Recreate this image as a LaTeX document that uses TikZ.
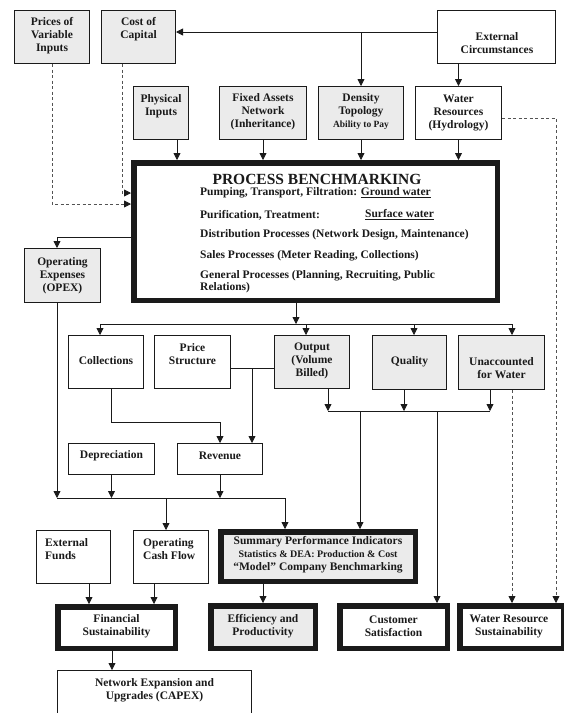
\documentclass[tikz,border=0pt]{standalone}
\usepackage{fontspec}
\setmainfont{Liberation Serif}
\usetikzlibrary{arrows.meta}
\definecolor{boxgray}{HTML}{EBEBEB}
\definecolor{ink}{HTML}{1A1A1A}
\tikzset{
  base/.style={draw=ink, inner sep=0pt},
  gbox/.style={base, fill=boxgray},
  wbox/.style={base, fill=white},
  lbl/.style={font=\bfseries\fontsize{11.5}{13}\selectfont, align=center, inner sep=0pt, text=ink},
  plbl/.style={font=\bfseries\fontsize{11.5}{13}\selectfont, anchor=west, inner sep=0pt, text=ink},
  ln/.style={draw=ink, line width=0.8pt},
  arr/.style={draw=ink, line width=0.8pt, -{Triangle[length=7pt,width=7pt]}},
  darr/.style={draw=ink!75, line width=0.8pt, dash pattern=on 3pt off 2.5pt, -{Triangle[length=7pt,width=7pt,color=ink]}}
}
\newcommand\BX[7]{\node[#1, line width=#7pt, minimum width={#5-#3-#7}, minimum height={#6-#4-#7}] (#2) at ({(#3+#5)/2},{(#4+#6)/2}) {};}
\begin{document}
\begin{tikzpicture}[x=1pt,y=-1pt]
\useasboundingbox (0,0) rectangle (563,713);
% boxes
\BX{gbox}{pvi}{14}{10}{90}{64}{0.8}
\BX{gbox}{coc}{101}{10}{176}{64}{0.8}
\BX{wbox}{ext}{437}{10}{556}{64}{0.8}
\BX{gbox}{phys}{133}{86}{189}{140}{0.8}
\BX{gbox}{fixed}{219}{86}{307}{140}{0.8}
\BX{gbox}{dens}{318}{86}{404}{140}{0.8}
\BX{wbox}{water}{415}{86}{502}{140}{0.8}
\BX{wbox}{proc}{131}{160}{500}{303}{5.5}
\BX{gbox}{opex}{24}{248}{101}{303}{0.8}
\BX{wbox}{coll}{68}{335}{144}{389}{0.8}
\BX{wbox}{price}{154}{335}{231}{389}{0.8}
\BX{gbox}{out}{274}{335}{350}{389}{0.8}
\BX{gbox}{qual}{372}{335}{447}{390}{0.8}
\BX{gbox}{unacc}{458}{335}{545}{390}{0.8}
\BX{wbox}{dep}{68}{443}{155}{475}{0.8}
\BX{wbox}{rev}{177}{443}{263}{475}{0.8}
\BX{wbox}{extf}{36}{530}{111}{584}{0.8}
\BX{wbox}{ocf}{133}{530}{209}{584}{0.8}
\BX{gbox}{summ}{218}{529}{418}{584}{5.5}
\BX{wbox}{fin}{55}{604}{178}{651}{5.5}
\BX{gbox}{eff}{208}{603}{318}{651}{5.5}
\BX{wbox}{cust}{337}{603}{450}{651}{5.5}
\BX{wbox}{wrs}{457}{603}{566}{651}{5.5}
\BX{wbox}{capex}{57}{670}{252}{730}{0.8}
% labels
\node[lbl] (pvi-t) at (52,36) {Prices of\\Variable\\Inputs};
\node[lbl] (coc-t) at (138.5,29) {Cost of\\Capital};
\node[lbl] (ext-t) at (497,43) {External\\Circumstances};
\node[lbl] (phys-t) at (161,106) {Physical\\Inputs};
\node[lbl] (fixed-t) at (263,112) {Fixed Assets\\Network\\(Inheritance)};
\node[lbl] (dens-t) at (361,112) {Density\\Topology\\{\fontsize{9.5}{12}\selectfont Ability to Pay}};
\node[lbl] (water-t) at (458.5,113) {Water\\Resources\\(Hydrology)};
\node[lbl, font=\bfseries\fontsize{15.5}{17}\selectfont] (proc-h) at (317,179) {PROCESS BENCHMARKING};
\node[plbl] (p1) at (200,193) {Pumping, Transport, Filtration: \underline{Ground water}};
\node[plbl] (p2) at (200,215) {Purification, Treatment:};
\node[plbl] (p2b) at (365,215) {\underline{Surface water}};
\node[plbl] (p3) at (200,235) {Distribution Processes (Network Design, Maintenance)};
\node[plbl] (p4) at (200,256) {Sales Processes (Meter Reading, Collections)};
\node[plbl] (p5) at (200,276) {General Processes (Planning, Recruiting, Public};
\node[plbl] (p6) at (200,287.5) {Relations)};
\node[lbl] (opex-t) at (62.5,276) {Operating\\Expenses\\(OPEX)};
\node[lbl] (coll-t) at (106,361) {Collections};
\node[lbl] (price-t) at (192.5,354) {Price\\Structure};
\node[lbl] (out-t) at (312,361) {Output\\(Volume\\Billed)};
\node[lbl] (qual-t) at (409.5,362) {Quality};
\node[lbl] (unacc-t) at (501.5,368) {Unaccounted\\for Water};
\node[lbl] (dep-t) at (111.5,456) {Depreciation};
\node[lbl] (rev-t) at (220,456) {Revenue};
\node[lbl, align=left, anchor=west] (extf-t) at (45,549) {External\\Funds};
\node[lbl, align=left, anchor=west] (ocf-t) at (143,549) {Operating\\Cash Flow};
\node[lbl] (summ-t) at (318,555) {Summary Performance Indicators\\{\fontsize{10}{12}\selectfont Statistics \& DEA: Production \& Cost}\\“Model” Company Benchmarking};
\node[lbl] (fin-t) at (116.5,626) {Financial\\Sustainability};
\node[lbl] (eff-t) at (263,626) {Efficiency and\\Productivity};
\node[lbl] (cust-t) at (393.5,626) {Customer\\Satisfaction};
\node[lbl] (wrs-t) at (509,626) {Water Resource\\Sustainability};
\node[lbl] (capex-t) at (154.5,690) {Network Expansion and\\Upgrades (CAPEX)};
% helper coordinates
\coordinate (topline) at (0,32);
\coordinate (sumline) at (0,498);
\coordinate (distline) at (0,324);
\coordinate (qline) at (0,411);
\coordinate (pj) at ([yshift=-6pt]price.east);
% top connectors
\draw[arr] ([yshift=5pt]ext.west) -- ([yshift=5pt]coc.east);
\draw[arr] (dens.north |- topline) -- (dens.north);
\draw[arr] (water.north |- ext.south) -- (water.north);
\draw[arr] ([xshift=16pt]phys.south) -- ([xshift=16pt]phys.south |- proc.north);
\draw[arr] (fixed.south) -- (fixed.south |- proc.north);
\draw[arr] (dens.south) -- (dens.south |- proc.north);
\draw[arr] (water.south) -- (water.south |- proc.north);
% dashed
\draw[darr] (pvi.south) |- ([yshift=27.5pt]proc.west);
\draw[darr] ([xshift=-16.5pt]coc.south) |- ([yshift=38.5pt]proc.west);
\draw[darr] ([yshift=-5pt]water.east) -| ([xshift=44.5pt]wrs.north);
\draw[darr] ([xshift=10.5pt]unacc.south) -- ([xshift=10.5pt]unacc.south |- wrs.north);
% opex
\draw[arr] ([yshift=-5.5pt]proc.west) -| ([xshift=-5.5pt]opex.north);
\draw[arr] ([xshift=-5.5pt]opex.south) -- ([xshift=-5.5pt]opex.south |- sumline);
\draw[arr] (dep.south) -- (dep.south |- sumline);
\draw[arr] (rev.south) -- (rev.south |- sumline);
\draw[ln] ([xshift=-5.5pt]opex.south |- sumline) -- ([xshift=-33pt]summ.north |- sumline);
\draw[arr] ([xshift=-5pt]ocf.north |- sumline) -- ([xshift=-5pt]ocf.north);
\draw[arr] ([xshift=-33pt]summ.north |- sumline) -- ([xshift=-33pt]summ.north);
% process outputs
\draw[arr] ([xshift=-19.5pt]proc.south) -- ([xshift=-19.5pt]proc.south |- distline);
\draw[ln] ([xshift=-6pt]coll.north |- distline) -- ([xshift=10.5pt]unacc.north |- distline);
\draw[arr] ([xshift=-6pt]coll.north |- distline) -- ([xshift=-6pt]coll.north);
\draw[arr] ([xshift=-6pt]out.north |- distline) -- ([xshift=-6pt]out.north);
\draw[arr] ([xshift=4.5pt]qual.north |- distline) -- ([xshift=4.5pt]qual.north);
\draw[arr] ([xshift=10.5pt]unacc.north |- distline) -- ([xshift=10.5pt]unacc.north);
% price / collections to revenue
\draw[ln] (pj) -- (pj -| out.west);
\draw[arr] ([xshift=32pt]rev.north |- pj) -- ([xshift=32pt]rev.north);
\draw[arr] ([xshift=5pt]coll.south) |- ([yshift=21pt]rev.north) -- (rev.north);
% output/quality/unaccounted
\draw[arr] ([xshift=16pt]out.south) -- ([xshift=16pt]out.south |- qline);
\draw[arr] ([xshift=-5.5pt]qual.south) -- ([xshift=-5.5pt]qual.south |- qline);
\draw[arr] ([xshift=-11.5pt]unacc.south) -- ([xshift=-11.5pt]unacc.south |- qline);
\draw[ln] ([xshift=16pt]out.south |- qline) -- ([xshift=-11.5pt]unacc.south |- qline);
\draw[arr] ([xshift=42pt]summ.north |- qline) -- ([xshift=42pt]summ.north);
\draw[arr] ([xshift=43.5pt]cust.north |- qline) -- ([xshift=43.5pt]cust.north);
% bottom
\draw[arr] ([xshift=15.5pt]extf.south) -- ([xshift=15.5pt]extf.south |- fin.north);
\draw[arr] ([xshift=-17pt]ocf.south) -- ([xshift=-17pt]ocf.south |- fin.north);
\draw[arr] (eff.north |- summ.south) -- (eff.north);
\draw[arr] ([xshift=-4.5pt]fin.south) -- ([xshift=-4.5pt]fin.south |- capex.north);
\end{tikzpicture}
\end{document}
